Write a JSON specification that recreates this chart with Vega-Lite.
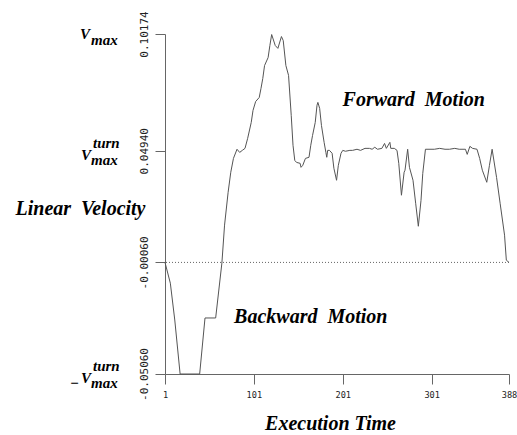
{
  "$schema": "https://vega.github.io/schema/vega-lite/v6.json",
  "autosize": {"type": "none"},
  "padding": {"left": 165, "top": 34, "right": 8, "bottom": 61},
  "width": 344,
  "height": 340,
  "background": "white",
  "config": {"view": {"stroke": null}},
  "datasets": {
    "curve": [
      {"t": 1, "v": -0.0006}, {"t": 7, "v": -0.0099}, {"t": 12, "v": -0.0264}, {"t": 18, "v": -0.0506},
      {"t": 40, "v": -0.0506}, {"t": 46, "v": -0.0255}, {"t": 58, "v": -0.0255}, {"t": 65, "v": -0.0009},
      {"t": 68, "v": 0.0161}, {"t": 72, "v": 0.0308}, {"t": 75, "v": 0.0398}, {"t": 78, "v": 0.046},
      {"t": 82, "v": 0.0501}, {"t": 85, "v": 0.0487}, {"t": 88, "v": 0.0496}, {"t": 91, "v": 0.0505},
      {"t": 94, "v": 0.055}, {"t": 98, "v": 0.0621}, {"t": 100, "v": 0.0675}, {"t": 103, "v": 0.0715},
      {"t": 107, "v": 0.0733}, {"t": 109, "v": 0.0774}, {"t": 111, "v": 0.0818}, {"t": 113, "v": 0.0876},
      {"t": 117, "v": 0.0912}, {"t": 119, "v": 0.0966}, {"t": 121, "v": 0.1015}, {"t": 125, "v": 0.0966},
      {"t": 128, "v": 0.0953}, {"t": 132, "v": 0.1006}, {"t": 134, "v": 0.0988}, {"t": 137, "v": 0.0876},
      {"t": 140, "v": 0.0832}, {"t": 143, "v": 0.0653}, {"t": 145, "v": 0.0519}, {"t": 147, "v": 0.0451},
      {"t": 149, "v": 0.0442}, {"t": 153, "v": 0.0438}, {"t": 154, "v": 0.042}, {"t": 156, "v": 0.0429},
      {"t": 159, "v": 0.046}, {"t": 163, "v": 0.0465}, {"t": 165, "v": 0.0519}, {"t": 167, "v": 0.0563},
      {"t": 170, "v": 0.0621}, {"t": 172, "v": 0.0698}, {"t": 173, "v": 0.0711}, {"t": 175, "v": 0.0684},
      {"t": 177, "v": 0.0608}, {"t": 180, "v": 0.0532}, {"t": 182, "v": 0.0487}, {"t": 183, "v": 0.0465},
      {"t": 184, "v": 0.0496}, {"t": 186, "v": 0.0496}, {"t": 189, "v": 0.0483}, {"t": 191, "v": 0.0416},
      {"t": 194, "v": 0.0362}, {"t": 196, "v": 0.0429}, {"t": 199, "v": 0.0483}, {"t": 201, "v": 0.0496},
      {"t": 204, "v": 0.0492}, {"t": 209, "v": 0.0496}, {"t": 212, "v": 0.0496}, {"t": 217, "v": 0.0501},
      {"t": 221, "v": 0.0496}, {"t": 226, "v": 0.0505}, {"t": 231, "v": 0.0505}, {"t": 234, "v": 0.0501},
      {"t": 237, "v": 0.051}, {"t": 240, "v": 0.0501}, {"t": 245, "v": 0.0505}, {"t": 248, "v": 0.0527},
      {"t": 250, "v": 0.0505}, {"t": 254, "v": 0.0532}, {"t": 255, "v": 0.0505}, {"t": 259, "v": 0.0505},
      {"t": 262, "v": 0.0496}, {"t": 264, "v": 0.0438}, {"t": 267, "v": 0.0295}, {"t": 270, "v": 0.0398},
      {"t": 271, "v": 0.0407}, {"t": 274, "v": 0.0501}, {"t": 276, "v": 0.042}, {"t": 280, "v": 0.0362},
      {"t": 283, "v": 0.0259}, {"t": 286, "v": 0.0156}, {"t": 289, "v": 0.0272}, {"t": 291, "v": 0.0393},
      {"t": 294, "v": 0.0501}, {"t": 304, "v": 0.0501}, {"t": 310, "v": 0.0505}, {"t": 316, "v": 0.0501},
      {"t": 321, "v": 0.0501}, {"t": 327, "v": 0.0505}, {"t": 332, "v": 0.0501}, {"t": 339, "v": 0.0501},
      {"t": 341, "v": 0.0478}, {"t": 344, "v": 0.0514}, {"t": 347, "v": 0.0505}, {"t": 352, "v": 0.0501},
      {"t": 355, "v": 0.046}, {"t": 358, "v": 0.0407}, {"t": 363, "v": 0.0353}, {"t": 366, "v": 0.0429},
      {"t": 369, "v": 0.0501}, {"t": 374, "v": 0.0375}, {"t": 378, "v": 0.0259}, {"t": 383, "v": 0.0116},
      {"t": 385, "v": 0.0004}, {"t": 388, "v": -0.0006}
    ]
  },
  "encoding": {
    "x": {
      "field": "t", "type": "quantitative",
      "scale": {"domain": [1, 388], "nice": false, "zero": false},
      "axis": {
        "values": [1, 101, 201, 301, 388],
        "grid": false, "tickSize": 10, "tickColor": "#666", "domainColor": "#666",
        "labelFont": "DejaVu Sans Mono", "labelFontSize": 8.6, "labelColor": "#222", "labelPadding": 6,
        "labelOverlap": false, "labelFlush": false, "labelBound": false,
        "title": "Execution Time", "titleFont": "Liberation Serif", "titleFontSize": 20,
        "titleFontStyle": "italic", "titleFontWeight": "bold", "titleColor": "black",
        "titleBaseline": "alphabetic", "titleY": 55, "titleX": 165
      }
    },
    "y": {
      "field": "v", "type": "quantitative",
      "scale": {"domain": [-0.0506, 0.10174], "nice": false, "zero": false},
      "axis": {
        "values": [-0.0506, -0.0006, 0.0494, 0.10174],
        "labelExpr": "replace(format(datum.value, '.5f'), '−', '-')",
        "grid": false, "tickSize": 10, "tickColor": "#666", "domainColor": "#666",
        "labelFont": "DejaVu Sans Mono", "labelFontSize": 11, "labelColor": "#222",
        "labelAngle": 270, "labelAlign": "center", "labelBaseline": "bottom", "labelPadding": 6,
        "labelOverlap": false, "labelFlush": false,
        "title": "Linear\u00a0 Velocity", "titleFont": "Liberation Serif", "titleFontSize": 20,
        "titleFontStyle": "italic", "titleFontWeight": "bold", "titleColor": "black",
        "titleAngle": 0, "titleAlign": "center", "titleBaseline": "alphabetic",
        "titleX": -85, "titleY": 180
      }
    }
  },
  "layer": [
    {
      "data": {"values": [{"v": -0.0006}]},
      "mark": {"type": "rule", "color": "#666", "strokeDash": [1, 2], "strokeWidth": 1},
      "encoding": {"x": null, "y": {"field": "v", "type": "quantitative"}}
    },
    {
      "data": {"name": "curve"},
      "mark": {"type": "line", "color": "#555", "strokeWidth": 1, "interpolate": "linear"}
    },
    {
      "data": {"values": [{"t": 280.8, "v": 0.072, "label": "Forward\u00a0 Motion"}, {"t": 165, "v": -0.0251, "label": "Backward\u00a0 Motion"}]},
      "mark": {"type": "text", "font": "Liberation Serif", "fontSize": 20, "fontStyle": "italic", "fontWeight": "bold", "align": "center", "baseline": "middle", "color": "black"},
      "encoding": {"text": {"field": "label"}}
    },
    {
      "data": {"values": [{"t": 1, "v": 0.10174, "label": "V"}]},
      "mark": {"type": "text", "font": "Liberation Serif", "fontSize": 15, "fontStyle": "italic", "fontWeight": "bold", "align": "right", "baseline": "alphabetic", "dx": -75, "dy": 5, "color": "black"},
      "encoding": {"text": {"field": "label"}}
    },
    {
      "data": {"values": [{"t": 1, "v": 0.10174, "label": "max"}]},
      "mark": {"type": "text", "font": "Liberation Serif", "fontSize": 15, "fontStyle": "italic", "fontWeight": "bold", "align": "left", "baseline": "alphabetic", "dx": -74, "dy": 11, "color": "black"},
      "encoding": {"text": {"field": "label"}}
    },
    {
      "data": {"values": [{"t": 1, "v": 0.0494, "label": "V"}, {"t": 1, "v": -0.0506, "label": "V"}]},
      "mark": {"type": "text", "font": "Liberation Serif", "fontSize": 15, "fontStyle": "italic", "fontWeight": "bold", "align": "right", "baseline": "alphabetic", "dx": -74, "dy": 9, "color": "black"},
      "encoding": {"text": {"field": "label"}}
    },
    {
      "data": {"values": [{"t": 1, "v": 0.0494, "label": "turn"}, {"t": 1, "v": -0.0506, "label": "turn"}]},
      "mark": {"type": "text", "font": "Liberation Serif", "fontSize": 15, "fontStyle": "italic", "fontWeight": "bold", "align": "left", "baseline": "alphabetic", "dx": -72, "dy": -3, "color": "black"},
      "encoding": {"text": {"field": "label"}}
    },
    {
      "data": {"values": [{"t": 1, "v": 0.0494, "label": "max"}, {"t": 1, "v": -0.0506, "label": "max"}]},
      "mark": {"type": "text", "font": "Liberation Serif", "fontSize": 15, "fontStyle": "italic", "fontWeight": "bold", "align": "left", "baseline": "alphabetic", "dx": -74, "dy": 14, "color": "black"},
      "encoding": {"text": {"field": "label"}}
    },
    {
      "data": {"values": [{"t": 1, "v": -0.0506, "label": "−"}]},
      "mark": {"type": "text", "font": "Liberation Serif", "fontSize": 15, "fontStyle": "italic", "fontWeight": "bold", "align": "right", "baseline": "middle", "dx": -86, "dy": 9, "color": "black"},
      "encoding": {"text": {"field": "label"}}
    }
  ]
}
